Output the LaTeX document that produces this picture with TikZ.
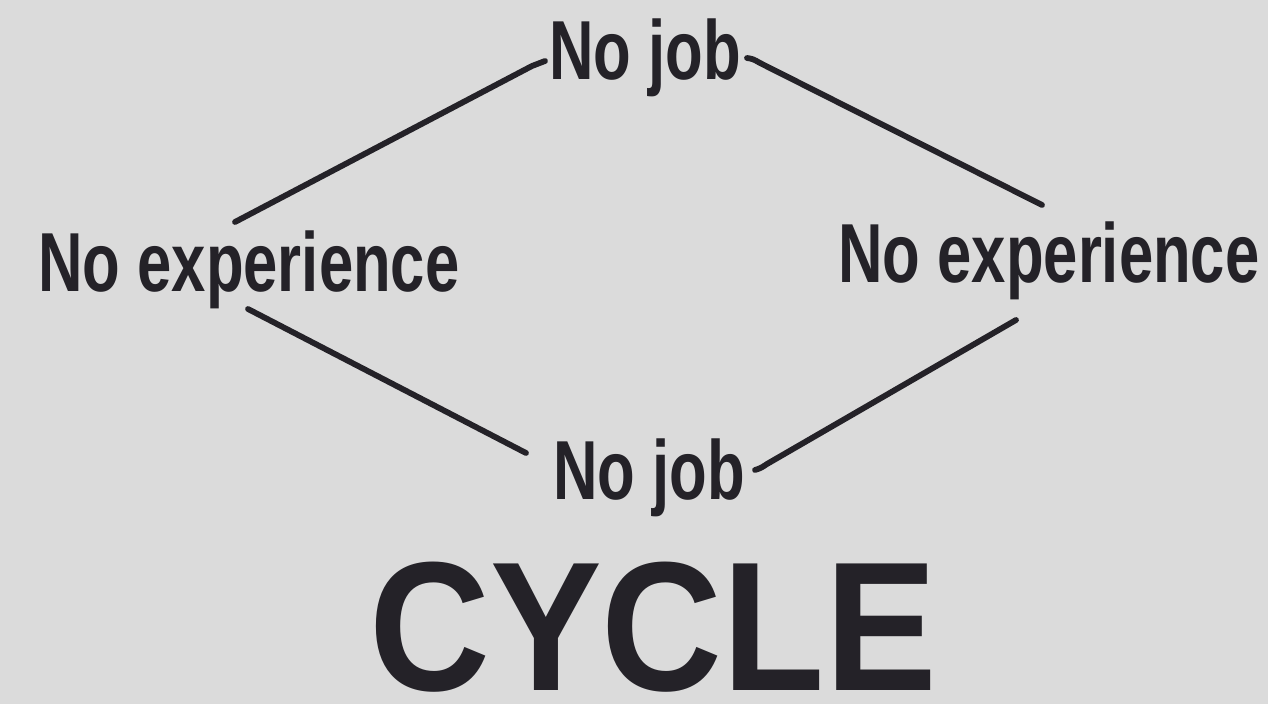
\documentclass[tikz,border=0pt]{standalone}
\usepackage{fontspec}
\newfontfamily\labfont[FakeStretch=0.735]{Liberation Sans}
\newfontfamily\titfont[FakeStretch=0.91]{Liberation Sans}
\definecolor{bg}{RGB}{219,219,219}
\definecolor{ink}{RGB}{36,34,40}
\begin{document}
\begin{tikzpicture}[x=0.5pt,y=-0.5pt,
  lab/.style={inner sep=0pt, anchor=base, text=ink, font=\labfont\bfseries\fontsize{41.9}{48}\selectfont},
  tit/.style={inner sep=0pt, anchor=base, text=ink, font=\titfont\bfseries\fontsize{92}{100}\selectfont},
  link/.style={draw=ink, line width=2.9pt, line cap=round, line join=round}]
\fill[bg] (0,0) rectangle (1268,704);
\useasboundingbox (0,0) rectangle (1268,704);
\node[lab] (topjob) at (645,80) {No job};
\node[lab] (botjob) at (649,500) {No job};
\node[lab] (lexp) at (249,292) {No experience};
\node[lab] (rexp) at (1049,283) {No experience};
\node[tit] (cycle) at (653,690) {CYCLE};
\coordinate (tl1) at (235,222);
\coordinate (tl2) at (532,66);
\coordinate (tl3) at (545,61);
\coordinate (tr1) at (747,58);
\coordinate (tr2) at (760,63);
\coordinate (tr3) at (1042,205);
\coordinate (bl1) at (248,309);
\coordinate (bl2) at (526,453);
\coordinate (br1) at (755,470);
\coordinate (br2) at (767,464);
\coordinate (br3) at (1016,320);
\draw[link] (tl1) -- (tl2) .. controls (538,63) .. (tl3);
\draw[link] (tr1) .. controls (753,59) .. (tr2) -- (tr3);
\draw[link] (bl1) -- (bl2);
\draw[link] (br1) .. controls (761,468) .. (br2) -- (br3);
\end{tikzpicture}
\end{document}
